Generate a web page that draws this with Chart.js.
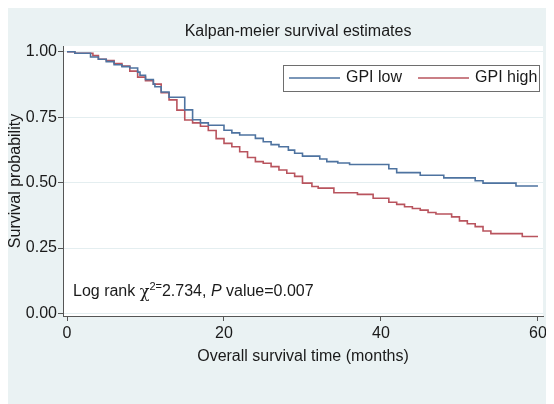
<!DOCTYPE html>
<html>
<head>
<meta charset="utf-8">
<script src="https://cdn.jsdelivr.net/npm/chart.js@4.4.1/dist/chart.umd.min.js"></script>
<style>
  body { margin: 8px; background: #fff; }
  #wrap { width: 546px; height: 396px; position: relative; }
</style>
</head>
<body>
<div id="wrap"><canvas id="km"></canvas></div>
<script>
// Kaplan-Meier step curves (months, survival)
const lowTimes = [0, 1, 3, 4, 5, 6, 7, 8, 9, 9.3, 10, 11, 11.2, 12, 13, 15, 16, 17, 18, 20, 21, 22, 24, 25, 26, 27, 28.2, 29, 30, 32.2, 33.1, 34.5, 36, 41, 42, 45, 48, 52, 53, 57.2, 60];
const lowSurv = [1, 0.994, 0.98, 0.971, 0.962, 0.95, 0.943, 0.938, 0.922, 0.91, 0.894, 0.876, 0.866, 0.846, 0.826, 0.778, 0.74, 0.728, 0.719, 0.7, 0.69, 0.682, 0.669, 0.656, 0.645, 0.637, 0.624, 0.612, 0.601, 0.59, 0.58, 0.575, 0.569, 0.553, 0.538, 0.528, 0.518, 0.507, 0.498, 0.487, 0.487];

const highTimes = [0, 1, 3.3, 4, 5, 6, 7, 8, 9, 10, 11, 12, 13, 14, 15, 16, 17, 18, 19, 20, 21, 22, 23, 24, 25, 26, 27, 28, 29, 30, 31.2, 32, 34, 37, 39, 41, 42, 43, 44, 45, 46, 47, 49, 50, 51, 52, 53, 54, 58, 60];
const highSurv = [1, 0.994, 0.985, 0.971, 0.966, 0.955, 0.945, 0.926, 0.903, 0.889, 0.876, 0.843, 0.816, 0.777, 0.739, 0.728, 0.715, 0.699, 0.668, 0.65, 0.637, 0.618, 0.596, 0.58, 0.574, 0.561, 0.548, 0.536, 0.524, 0.498, 0.485, 0.479, 0.461, 0.455, 0.44, 0.425, 0.417, 0.408, 0.401, 0.395, 0.386, 0.38, 0.369, 0.354, 0.343, 0.332, 0.315, 0.305, 0.294, 0.294];

const seriesLabels = ['GPI low', 'GPI high'];
const xTicks = [0, 20, 40, 60];
const yTicks = [0, 0.25, 0.5, 0.75, 1];

const FONT = '"Liberation Sans", Arial, sans-serif';
const BG = '#eaf2f3';
const INK = '#1a1a1a';

const toPoints = (ts, ss) => ts.map((t, i) => ({ x: t, y: ss[i] }));

// light blue-grey page, white plot region
const backdrop = {
  id: 'backdrop',
  beforeDraw(chart) {
    const { ctx, chartArea: a, width, height } = chart;
    ctx.save();
    ctx.fillStyle = BG;
    ctx.fillRect(0, 0, width, height);
    ctx.fillStyle = '#fff';
    ctx.fillRect(a.left, a.top, a.right - a.left, a.bottom - a.top);
    ctx.restore();
  }
};

// title, boxed legend and the log-rank note, Stata style
const overlay = {
  id: 'overlay',
  afterDraw(chart) {
    const { ctx, chartArea: a } = chart;
    ctx.save();
    ctx.fillStyle = INK;
    ctx.textBaseline = 'middle';

    ctx.font = '16px ' + FONT;
    ctx.textAlign = 'center';
    ctx.fillText('Kalpan-meier survival estimates', 290, 24);

    // legend
    const lx = a.right - 4, ly = a.top + 19;
    const box = { x: 275, y: ly, w: lx - 275, h: 26 };
    ctx.fillStyle = '#fff';
    ctx.fillRect(box.x, box.y, box.w, box.h);
    ctx.strokeStyle = '#6e6e6e';
    ctx.lineWidth = 1;
    ctx.strokeRect(box.x + 0.5, box.y + 0.5, box.w, box.h);
    ctx.textAlign = 'left';
    let x = box.x + 6;
    const cy = box.y + box.h / 2;
    chart.data.datasets.forEach(ds => {
      ctx.strokeStyle = ds.borderColor;
      ctx.lineWidth = 1.6;
      ctx.beginPath();
      ctx.moveTo(x, cy);
      ctx.lineTo(x + 51, cy);
      ctx.stroke();
      ctx.fillStyle = INK;
      ctx.fillText(ds.label, x + 57, cy);
      x += 57 + ctx.measureText(ds.label).width + 16;
    });

    // log-rank note
    const parts = [
      { t: 'Log rank ', f: '16px ' + FONT, dy: 0 },
      { t: '\u03c7', f: '16px "DejaVu Serif", serif', dy: 1 },
      { t: '2=', f: '11px ' + FONT, dy: -5 },
      { t: '2.734, ', f: '16px ' + FONT, dy: 0 },
      { t: 'P', f: 'italic 16px ' + FONT, dy: 0 },
      { t: ' value=0.007', f: '16px ' + FONT, dy: 0 }
    ];
    let nx = a.left + 10;
    const ny = 284;
    parts.forEach(p => {
      ctx.font = p.f;
      ctx.fillText(p.t, nx, ny + p.dy);
      nx += ctx.measureText(p.t).width;
    });
    ctx.restore();
  }
};

new Chart(document.getElementById('km'), {
  type: 'line',
  data: {
    datasets: [
      {
        label: seriesLabels[0],
        data: toPoints(lowTimes, lowSurv),
        borderColor: '#4e73a0',
        borderWidth: 1.6,
        stepped: 'before',
        pointRadius: 0,
        fill: false
      },
      {
        label: seriesLabels[1],
        data: toPoints(highTimes, highSurv),
        borderColor: '#b9545e',
        borderWidth: 1.6,
        stepped: 'before',
        pointRadius: 0,
        fill: false
      }
    ]
  },
  options: {
    responsive: true,
    maintainAspectRatio: false,
    animation: false,
    layout: { padding: { top: 38, right: 11, bottom: 34, left: 0 } },
    plugins: {
      legend: { display: false },
      title: { display: false },
      tooltip: { enabled: false }
    },
    scales: {
      x: {
        type: 'linear',
        min: -0.51,
        max: 60.64,
        afterBuildTicks: axis => { axis.ticks = xTicks.map(v => ({ value: v })); },
        afterFit: scale => { scale.height = 396 - 34 - 308; },
        ticks: { color: INK, font: { family: FONT, size: 16 }, padding: 3, maxRotation: 0 },
        grid: { drawOnChartArea: false, tickColor: '#555', tickLength: 5 },
        border: { color: '#555', width: 1 },
        title: {
          display: true,
          text: 'Overall survival time (months)',
          color: INK,
          font: { family: FONT, size: 16 },
          padding: { top: 4, bottom: 4 }
        }
      },
      y: {
        type: 'linear',
        min: -0.0095,
        max: 1.0218,
        afterBuildTicks: axis => { axis.ticks = yTicks.map(v => ({ value: v })); },
        afterFit: scale => { scale.width = 55; },
        ticks: {
          color: INK,
          font: { family: FONT, size: 16 },
          padding: 1,
          callback: v => Number(v).toFixed(2)
        },
        grid: { color: '#e4eef0', tickColor: '#555', tickLength: 5 },
        border: { color: '#555', width: 1 },
        title: {
          display: true,
          text: 'Survival probability',
          color: INK,
          font: { family: FONT, size: 16, lineHeight: 1 },
          padding: { top: 0, bottom: 0 }
        }
      }
    }
  },
  plugins: [backdrop, overlay]
});
</script>
</body>
</html>
